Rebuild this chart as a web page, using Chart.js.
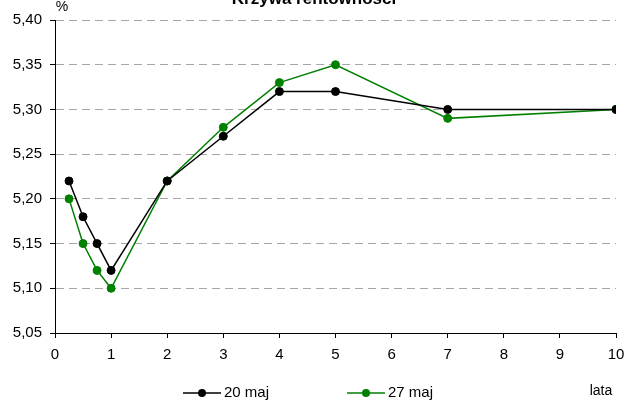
<!DOCTYPE html>
<html>
<head>
<meta charset="utf-8">
<script src="https://cdn.jsdelivr.net/npm/chart.js@4/dist/chart.umd.min.js"></script>
<style>
  html, body { margin: 0; padding: 0; background: #fff; }
  #wrap { width: 624px; height: 401px; position: relative; }
</style>
</head>
<body>
<div id="wrap"><canvas id="c" width="624" height="401"></canvas></div>
<script>
// Maturities in years and yields (%) for the two dates
const maturities = [0.25, 0.5, 0.75, 1, 2, 3, 4, 5, 7, 10];
const yields20May = [5.22, 5.18, 5.15, 5.12, 5.22, 5.27, 5.32, 5.32, 5.30, 5.30];
const yields27May = [5.20, 5.15, 5.12, 5.10, 5.22, 5.28, 5.33, 5.35, 5.29, 5.30];
const seriesNames = ['20 maj', '27 maj'];
const xTickValues = [0, 1, 2, 3, 4, 5, 6, 7, 8, 9, 10];
const yTickValues = [5.05, 5.10, 5.15, 5.20, 5.25, 5.30, 5.35, 5.40];
const chartTitle = 'Krzywa rentowności';
const yUnit = '%';
const xUnit = 'lata';

const FONT = '"Liberation Sans", Arial, sans-serif';

const toPoints = (ys) => maturities.map((m, i) => ({ x: m, y: ys[i] }));

// Title, unit labels and a line-with-marker legend
const decorations = {
  id: 'decorations',
  afterDraw(chart) {
    const ctx = chart.ctx;
    ctx.save();
    ctx.fillStyle = '#000';
    ctx.font = 'bold 17px ' + FONT;
    ctx.textAlign = 'center';
    ctx.textBaseline = 'alphabetic';
    ctx.fillText(chartTitle, 314, 4);

    ctx.font = '14px ' + FONT;
    ctx.textAlign = 'center';
    ctx.textBaseline = 'middle';
    ctx.fillText(yUnit, 62, 7);
    ctx.fillText(xUnit, 601, 391);

    const starts = [183, 347];
    const y = 393;
    ctx.font = '15px ' + FONT;
    ctx.textAlign = 'left';
    chart.data.datasets.forEach((ds, i) => {
      const x0 = starts[i];
      ctx.strokeStyle = ds.borderColor;
      ctx.lineWidth = 1.5;
      ctx.beginPath();
      ctx.moveTo(x0, y);
      ctx.lineTo(x0 + 38, y);
      ctx.stroke();
      ctx.fillStyle = ds.pointBackgroundColor;
      ctx.beginPath();
      ctx.arc(x0 + 19, y, 4, 0, Math.PI * 2);
      ctx.fill();
      ctx.fillStyle = '#000';
      ctx.fillText(ds.label, x0 + 41, y);
    });
    ctx.restore();
  }
};

new Chart(document.getElementById('c'), {
  type: 'line',
  data: {
    datasets: [
      {
        label: seriesNames[0],
        data: toPoints(yields20May),
        borderColor: '#000000',
        backgroundColor: '#000000',
        pointBackgroundColor: '#000000',
        pointBorderColor: '#000000',
        borderWidth: 1.5,
        pointRadius: 4,
        pointBorderWidth: 1,
        tension: 0
      },
      {
        label: seriesNames[1],
        data: toPoints(yields27May),
        borderColor: '#008000',
        backgroundColor: '#008000',
        pointBackgroundColor: '#008000',
        pointBorderColor: '#008000',
        borderWidth: 1.5,
        pointRadius: 4,
        pointBorderWidth: 1,
        tension: 0
      }
    ]
  },
  options: {
    responsive: false,
    animation: false,
    events: [],
    layout: { padding: { top: 20, right: 0, bottom: 38, left: 0 } },
    plugins: {
      legend: { display: false },
      title: { display: false },
      tooltip: { enabled: false }
    },
    scales: {
      x: {
        type: 'linear',
        min: 0,
        max: 10,
        afterBuildTicks: (s) => { s.ticks = xTickValues.map(v => ({ value: v })); },
        afterFit: (s) => { s.height = 30; s.paddingRight = 8; },
        ticks: {
          color: '#000',
          font: { family: FONT, size: 15 },
          padding: 8,
          maxRotation: 0,
          autoSkip: false
        },
        grid: {
          drawOnChartArea: false,
          drawTicks: true,
          tickLength: 5,
          tickColor: '#000',
          tickBorderDash: []
        },
        border: { display: true, color: '#000', width: 1 }
      },
      y: {
        type: 'linear',
        min: 5.05,
        max: 5.40,
        afterBuildTicks: (s) => { s.ticks = yTickValues.map(v => ({ value: v })); },
        afterFit: (s) => { s.width = 55; },
        ticks: {
          color: '#000',
          font: { family: FONT, size: 15 },
          padding: 8,
          autoSkip: false,
          callback: (v) => Number(v).toFixed(2).replace('.', ',')
        },
        grid: {
          color: '#a6a6a6',
          lineWidth: 1,
          drawTicks: true,
          tickLength: 5,
          tickColor: '#000',
          tickBorderDash: []
        },
        border: { display: true, color: '#000', width: 1, dash: [8, 5] }
      }
    }
  },
  plugins: [decorations]
});
</script>
</body>
</html>
